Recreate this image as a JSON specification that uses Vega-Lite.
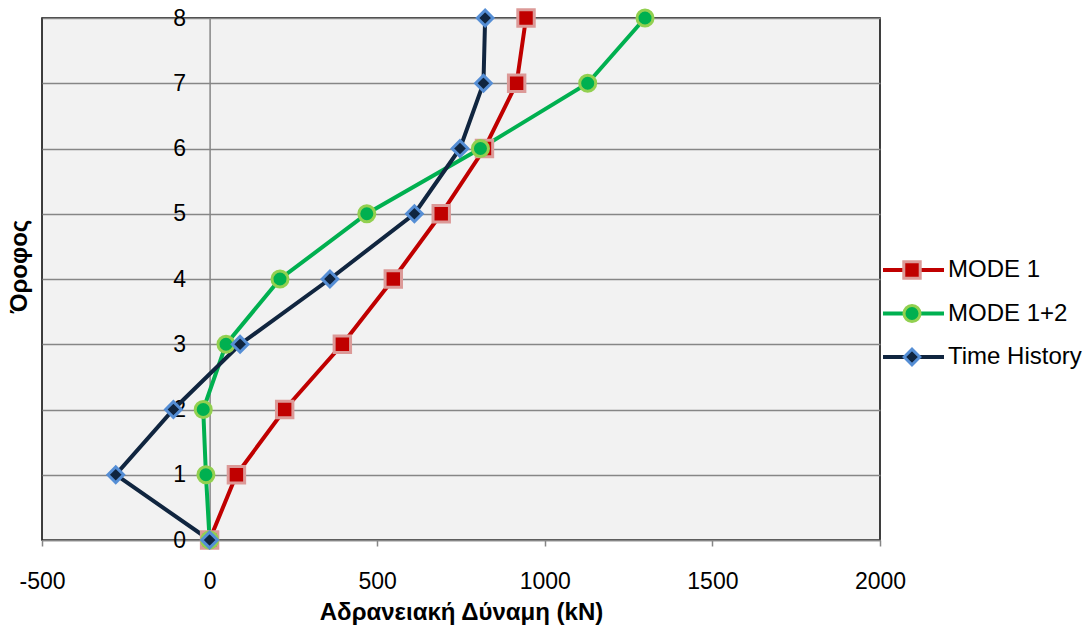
{
  "$schema": "https://vega.github.io/schema/vega-lite/v6.json",
  "width": 838,
  "height": 522,
  "autosize": {"type": "none"},
  "padding": {"left": 42, "top": 18, "right": 208, "bottom": 86},
  "background": "white",
  "config": {
    "font": "Liberation Sans",
    "view": {"fill": "#f2f2f2", "stroke": "#000000", "strokeWidth": 1.5}
  },
  "data": {
    "values": [
      {"series": "MODE 1", "floor": 0, "force": 0},
      {"series": "MODE 1", "floor": 1, "force": 80},
      {"series": "MODE 1", "floor": 2, "force": 224},
      {"series": "MODE 1", "floor": 3, "force": 396},
      {"series": "MODE 1", "floor": 4, "force": 548},
      {"series": "MODE 1", "floor": 5, "force": 691},
      {"series": "MODE 1", "floor": 6, "force": 820},
      {"series": "MODE 1", "floor": 7, "force": 916},
      {"series": "MODE 1", "floor": 8, "force": 944},
      {"series": "MODE 1+2", "floor": 0, "force": 0},
      {"series": "MODE 1+2", "floor": 1, "force": -11},
      {"series": "MODE 1+2", "floor": 2, "force": -19},
      {"series": "MODE 1+2", "floor": 3, "force": 49},
      {"series": "MODE 1+2", "floor": 4, "force": 210},
      {"series": "MODE 1+2", "floor": 5, "force": 469},
      {"series": "MODE 1+2", "floor": 6, "force": 808},
      {"series": "MODE 1+2", "floor": 7, "force": 1128},
      {"series": "MODE 1+2", "floor": 8, "force": 1299},
      {"series": "Time History", "floor": 0, "force": 0},
      {"series": "Time History", "floor": 1, "force": -280},
      {"series": "Time History", "floor": 2, "force": -108},
      {"series": "Time History", "floor": 3, "force": 91},
      {"series": "Time History", "floor": 4, "force": 359},
      {"series": "Time History", "floor": 5, "force": 611},
      {"series": "Time History", "floor": 6, "force": 747},
      {"series": "Time History", "floor": 7, "force": 817},
      {"series": "Time History", "floor": 8, "force": 822}
    ]
  },
  "encoding": {
    "x": {
      "field": "force",
      "type": "quantitative",
      "scale": {"domain": [-500, 2000], "nice": false, "zero": false},
      "axis": {
        "title": "Αδρανειακή Δύναμη (kN)",
        "titleFontSize": 24,
        "titleFontWeight": "bold",
        "titleColor": "#000000",
        "titlePadding": 7,
        "values": [-500, 0, 500, 1000, 1500, 2000],
        "labelExpr": "'' + datum.value",
        "grid": false,
        "labelFlush": false,
        "labelOverlap": false,
        "labelFontSize": 23,
        "labelColor": "#000000",
        "labelPadding": 24,
        "tickColor": "#868686",
        "tickSize": 6,
        "tickWidth": 1.5,
        "domainColor": "#868686",
        "domainWidth": 1.5
      }
    },
    "y": {
      "field": "floor",
      "type": "quantitative",
      "scale": {"domain": [0, 8], "nice": false},
      "axis": {
        "title": "Όροφος",
        "titleFontSize": 24,
        "titleFontWeight": "bold",
        "titleColor": "#000000",
        "titleAngle": -90,
        "titleBaseline": "middle",
        "titleAlign": "center",
        "titleX": -190.6,
        "titleY": 248,
        "offset": -167.6,
        "values": [0, 1, 2, 3, 4, 5, 6, 7, 8],
        "ticks": false,
        "labelFlush": false,
        "labelOverlap": false,
        "labelPadding": 24,
        "labelFontSize": 23,
        "labelColor": "#000000",
        "domainColor": "#868686",
        "domainWidth": 1.5,
        "gridColor": "#868686",
        "gridWidth": 1.5
      }
    }
  },
  "layer": [
    {
      "mark": {"type": "line", "strokeWidth": 4},
      "encoding": {
        "order": {"field": "floor", "type": "quantitative"},
        "color": {
          "field": "series",
          "type": "nominal",
          "scale": {
            "domain": ["MODE 1", "MODE 1+2", "Time History"],
            "range": ["#c00000", "#00b050", "#10253f"]
          },
          "legend": {
            "orient": "none",
            "legendX": 839,
            "legendY": 237,
            "title": null,
            "padding": 0,
            "symbolType": "stroke",
            "symbolSize": 3721,
            "symbolStrokeWidth": 4,
            "labelFontSize": 24,
            "labelColor": "#000000",
            "labelOffset": 2,
            "clipHeight": 30,
            "rowPadding": 13.5
          }
        }
      }
    },
    {
      "mark": {"type": "point", "filled": true, "strokeWidth": 3, "opacity": 1},
      "encoding": {
        "fill": {
          "field": "series",
          "type": "nominal",
          "scale": {"range": ["#c00000", "#00b050", "#10253f"]},
          "legend": {
            "orient": "none",
            "legendX": 858,
            "legendY": 237,
            "title": null,
            "padding": 0,
            "labelExpr": "''",
            "labelFontSize": 24,
            "symbolStrokeWidth": 3,
            "symbolOpacity": 1,
            "clipHeight": 30,
            "rowPadding": 13.5
          }
        },
        "stroke": {
          "field": "series",
          "type": "nominal",
          "scale": {"range": ["#dc9a98", "#92d050", "#558ed5"]}
        },
        "shape": {
          "field": "series",
          "type": "nominal",
          "scale": {"range": ["square", "circle", "diamond"]}
        },
        "size": {
          "field": "series",
          "type": "nominal",
          "scale": {"range": [270, 245, 310]}
        }
      }
    }
  ]
}
